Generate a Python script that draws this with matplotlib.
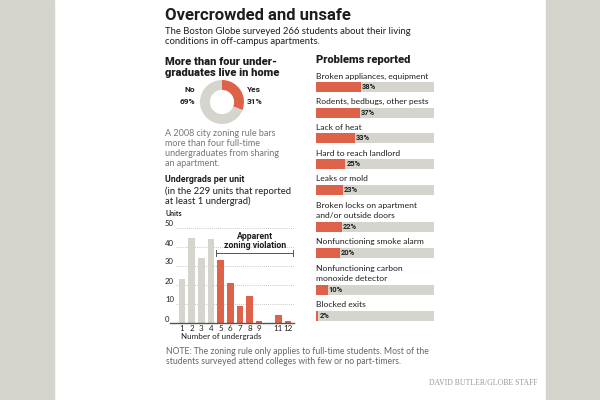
import numpy as np
import matplotlib.pyplot as plt
from matplotlib.transforms import blended_transform_factory

# data
donut_labels = ['Yes', 'No']
donut_values = [31, 69]

units_x = [1, 2, 3, 4, 5, 6, 7, 8, 9, 10, 11, 12]
units_y = [23, 45, 34, 44, 33, 21, 9, 14, 1, 0, 4, 1]
units_ticks = [1, 2, 3, 4, 5, 6, 7, 8, 9, 11, 12]

problems = ['Broken appliances, equipment',
            'Rodents, bedbugs, other pests',
            'Lack of heat',
            'Hard to reach landlord',
            'Leaks or mold',
            'Broken locks on apartment\nand/or outside doors',
            'Nonfunctioning smoke alarm',
            'Nonfunctioning carbon\nmonoxide detector',
            'Blocked exits']
problem_pct = [38, 37, 33, 25, 23, 22, 20, 10, 2]

RED = '#de6249'
GRAY = '#d6d5cd'
DARK = '#1e1e1e'
W, H = 600, 400

BODY = ['Lato', 'DejaVu Sans']
TITLE = ['Liberation Sans Narrow', 'Roboto', 'DejaVu Sans']
HEAD = ['Roboto', 'DejaVu Sans']

fig = plt.figure(figsize=(6, 4), dpi=100)
fig.patch.set_facecolor('white')

# gray side strips
fig.patches.append(plt.Rectangle((0, 0), 54 / W, 1, transform=fig.transFigure,
                                 color=GRAY, zorder=0))
fig.patches.append(plt.Rectangle((546 / W, 0), 54 / W, 1, transform=fig.transFigure,
                                 color=GRAY, zorder=0))


def ftext(x, y, s, **kw):
    kw.setdefault('va', 'center')
    kw.setdefault('color', DARK)
    kw.setdefault('family', BODY)
    fig.text(x / W, 1 - y / H, s, **kw)


ftext(165, 15, 'Overcrowded and unsafe', fontsize=12, weight='bold', family=TITLE)
ftext(165, 32, 'The Boston Globe surveyed 266 students about their living', fontsize=6.8)
ftext(165, 42, 'conditions in off-campus apartments.', fontsize=6.8)

ftext(165, 62, 'More than four under-', fontsize=8, weight='heavy', family=HEAD)
ftext(165, 73, 'graduates live in home', fontsize=8, weight='heavy', family=HEAD)
ftext(316, 60, 'Problems reported', fontsize=8, weight='heavy', family=HEAD)

# donut
ax_d = fig.add_axes([200 / W, 1 - 124 / H, 44 / W, 44 / H])
ax_d.pie(donut_values, colors=[RED, GRAY], startangle=90, counterclock=False,
         wedgeprops=dict(width=0.45, linewidth=0))
ax_d.set_xlim(-1, 1)
ax_d.set_ylim(-1, 1)
ax_d.set_aspect('equal')
ftext(195, 90, donut_labels[1], fontsize=6, weight='bold', ha='right', family=HEAD)
ftext(195, 101, f'{donut_values[1]}%', fontsize=6, weight='bold', ha='right', family=HEAD)
ftext(247, 90, donut_labels[0], fontsize=6, weight='bold', family=HEAD)
ftext(247, 101, f'{donut_values[0]}%', fontsize=6, weight='bold', family=HEAD)

para = ['A 2008 city zoning rule bars', 'more than four full-time',
        'undergraduates from sharing', 'an apartment.']
for i, line in enumerate(para):
    ftext(165, 133 + i * 10, line, fontsize=6.5, color='#777777')

ftext(165, 179, 'Undergrads per unit', fontsize=6.4, weight='bold', family=HEAD)
ftext(165, 191, '(in the 229 units that reported', fontsize=6.8)
ftext(165, 201, 'at least 1 undergrad)', fontsize=6.8)
ftext(165, 214, 'Units', fontsize=5, weight='bold')

# undergrads histogram
ax = fig.add_axes([176 / W, 1 - 323 / H, 118 / W, 95 / H])
colors = [GRAY if x <= 4 else RED for x in units_x]
ax.bar(units_x, units_y, width=0.68, color=colors, zorder=2)
ax.set_xlim(0.37, 12.62)
ax.set_ylim(0, 50)
for s in ax.spines.values():
    s.set_visible(False)
ax.set_yticks([])
ax.set_xticks(units_ticks)
ax.set_xticklabels([str(t) for t in units_ticks], fontsize=5.8, family=BODY, color=DARK)
ax.tick_params(axis='x', length=0, pad=1.5)
for v in [10, 20, 30, 40, 50]:
    ax.axhline(v, color='#b5b5b5', lw=0.6, ls=(0, (1, 1.5)), zorder=1)
ax.plot([-0.05, 1.0], [0, 0], color='#555555', lw=1.0,
        transform=blended_transform_factory(ax.transAxes, ax.transData),
        clip_on=False, zorder=3)
for v in [0, 10, 20, 30, 40, 50]:
    ax.annotate(str(v), xy=(0, v), xycoords=('axes fraction', 'data'),
                xytext=(-11, 4), textcoords='offset pixels', fontsize=5.6,
                family=BODY, color=DARK, va='center', ha='left')

# violation bracket
bx0, bx1, by = 4.52, 12.52, 36.8
ax.plot([bx0, bx1], [by, by], color='#555555', lw=0.7, clip_on=False)
for bx in (bx0, bx1):
    ax.plot([bx, bx], [by - 1.6, by + 1.6], color='#555555', lw=0.7, clip_on=False)
ax.text(8.55, 43.2, 'Apparent\nzoning violation', ha='center', va='center',
        fontsize=6.3, weight='bold', family=HEAD, color=DARK, linespacing=1.05)

ftext(181, 337, 'Number of undergrads', fontsize=5.8)

# problems reported
ax_p = fig.add_axes([316 / W, 1 - 330 / H, 118 / W, 280 / H])
ax_p.set_xlim(0, 100)
ax_p.set_ylim(330, 50)
ax_p.axis('off')
bar_y = []
y = 87
for lab in problems:
    extra = lab.count('\n')
    y += 11.5 * extra
    bar_y.append(y)
    y += 25.7
ax_p.barh(bar_y, [100] * len(problems), height=10, color=GRAY, lw=0)
ax_p.barh(bar_y, problem_pct, height=10, color=RED, lw=0)
for lab, yy, v in zip(problems, bar_y, problem_pct):
    lines = lab.split('\n')
    for j, ln in enumerate(reversed(lines)):
        ax_p.text(0, yy - 11 - 10.5 * j, ln, fontsize=6.1, family=BODY,
                  color=DARK, va='center', ha='left')
    ax_p.text(v + 0.8, yy, f'{v}%', fontsize=5.4, weight='bold', family=HEAD,
              color=DARK, va='center', ha='left')

ftext(166, 352, 'NOTE: The zoning rule only applies to full-time students. Most of the',
      fontsize=6.2, color='#666666')
ftext(166, 361, 'students surveyed attend colleges with few or no part-timers.',
      fontsize=6.2, color='#666666')
ftext(538, 383, 'DAVID BUTLER/GLOBE STAFF', fontsize=5.6, color='#999999',
      ha='right', family=['Liberation Serif', 'DejaVu Serif'])

fig.savefig('out.png', dpi=100)
